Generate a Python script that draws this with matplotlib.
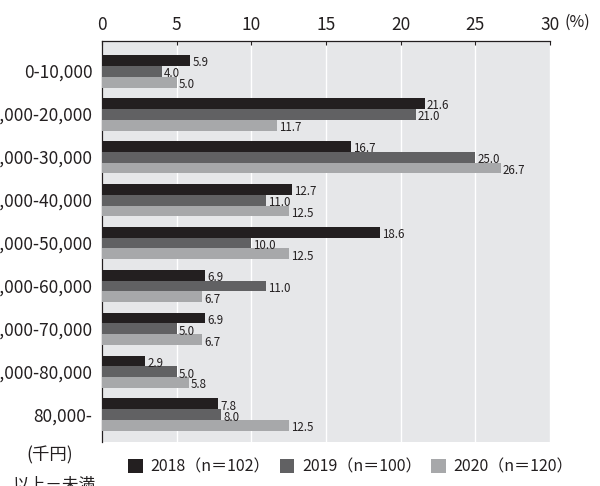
import numpy as np
import matplotlib.pyplot as plt
from matplotlib.patches import Patch

plt.rcParams['font.family'] = ['Noto Sans CJK JP', 'DejaVu Sans']

# data
categories = ['0-10,000', '10,000-20,000', '20,000-30,000', '30,000-40,000',
              '40,000-50,000', '50,000-60,000', '60,000-70,000', '70,000-80,000',
              '80,000-']
v2018 = [5.9, 21.6, 16.7, 12.7, 18.6, 6.9, 6.9, 2.9, 7.8]
v2019 = [4.0, 21.0, 25.0, 11.0, 10.0, 11.0, 5.0, 5.0, 8.0]
v2020 = [5.0, 11.7, 26.7, 12.5, 12.5, 6.7, 6.7, 5.8, 12.5]
series_labels = ['2018（n＝102）', '2019（n＝100）', '2020（n＝120）']
colors = ['#231f20', '#616163', '#a7a8aa']

fig = plt.figure(figsize=(6, 4.86), dpi=100)
# axes box in pixels: x 102-550, y 41-442
ax = fig.add_axes([102 / 600, 1 - 442 / 486, 448 / 600, 401 / 486])
ax.set_facecolor('#e6e7e9')

y = np.arange(len(categories))
h = 0.255
for k, (vals, col) in enumerate(zip([v2018, v2019, v2020], colors)):
    pos = y + (k - 1) * h
    ax.barh(pos, vals, height=h, color=col, zorder=3)
    for p, v in zip(pos, vals):
        ax.annotate(f'{v:.1f}', (v, p), xytext=(1.5, -1.5), textcoords='offset points',
                    ha='left', va='center', fontsize=8.3, color='#231f20', zorder=4)

ax.set_xlim(0, 30)
ax.set_ylim(8.63, -0.70)
ax.set_xticks(range(0, 31, 5))
ax.xaxis.tick_top()
ax.tick_params(axis='x', direction='in', length=3, width=0.8, labelsize=12.5, pad=5,
               colors='#231f20')
ax.set_yticks(y)
ax.set_yticklabels(categories)
ax.tick_params(axis='y', length=0, labelsize=12.5, pad=7, colors='#231f20')
ax.grid(axis='x', color='white', linewidth=1, zorder=1)
for s in ['right', 'bottom']:
    ax.spines[s].set_visible(False)
for s in ['top', 'left']:
    ax.spines[s].set_color('#231f20')
    ax.spines[s].set_linewidth(0.9)

fig.text(577 / 600, 1 - 22 / 486, '(%)', ha='center', va='center', fontsize=11.5,
         color='#231f20')
fig.text(50 / 600, 1 - 455 / 486, '(千円)', ha='center', va='center', fontsize=12.5,
         color='#231f20')
fig.text(54 / 600, 1 - 485 / 486, '以上－未満', ha='center', va='center', fontsize=12,
         color='#231f20')

handles = [Patch(facecolor=c, edgecolor='none') for c in colors]
fig.legend(handles, series_labels, loc='center left',
           bbox_to_anchor=(114 / 600, 1 - 467 / 486), ncol=3, frameon=False,
           fontsize=11.5, handlelength=0.9, handleheight=0.9, handletextpad=0.5,
           columnspacing=0.6, labelcolor='#231f20')

fig.savefig('out.png', dpi=100)
